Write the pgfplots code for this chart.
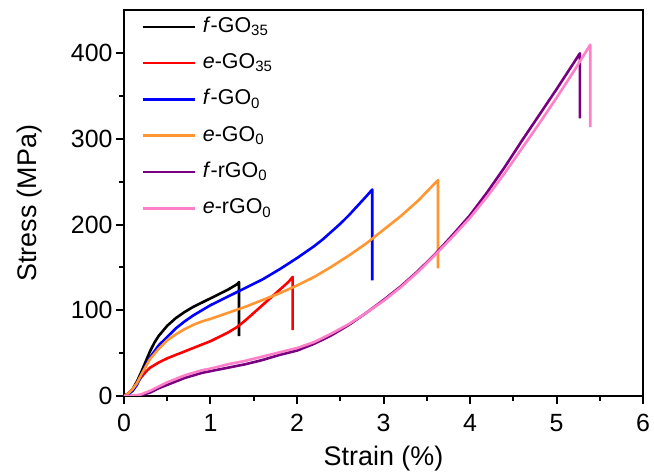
\documentclass[border=0pt]{standalone}
\usepackage{pgfplots}
\pgfplotsset{compat=1.18}
\usepackage{fontspec}
\setmainfont{Liberation Sans}
\definecolor{cOrange}{RGB}{255,150,50}
\definecolor{cPurple}{RGB}{120,0,128}
\definecolor{cPink}{RGB}{255,128,200}
\begin{document}
\begin{tikzpicture}
\begin{axis}[name=ax, scale only axis, width=519bp, height=385.5bp,
  xmin=0, xmax=6, ymin=0, ymax=450,
  xtick={0,1,2,3,4,5,6}, ytick={0,100,200,300,400},
  minor x tick num=1, minor y tick num=1,
  tick align=outside, tick pos=left,
  major tick length=8bp, minor tick length=5bp,
  axis line style={line width=2bp},
  every tick/.style={line width=2bp, black},
  tick label style={font=\fontsize{25}{29}\selectfont},
  x tick label style={yshift=-7bp},
  /pgf/number format/assume math mode=true,
  xlabel={Strain (\%)}, ylabel={Stress (MPa)},
  every axis x label/.style={at={(axis description cs:0.5,-0.179)}, anchor=base, font=\fontsize{27}{31}\selectfont},
  every axis y label/.style={at={(axis description cs:-0.1811,0.5)}, rotate=90, anchor=center, font=\fontsize{27}{31}\selectfont},
  legend style={at={(0.033,0.988)}, anchor=north west, draw=none, fill=none, inner sep=0pt,
    font=\fontsize{21.5}{25}\selectfont, row sep=13.3bp,
    nodes={inner sep=2bp, text height=15bp, text depth=4bp},
    /tikz/every odd column/.append style={column sep=5bp}},
  legend cell align=left,
  legend image code/.code={\draw[#1, line width=2.6bp] (0bp,0bp) -- (52bp,0bp);},
  every axis plot/.append style={line width=2.6bp, line join=round},
]
\addplot[black] coordinates {(0,0)(0.05,3)(0.1,8)(0.15,17)(0.2,28)(0.25,40)(0.3,52)(0.35,62)(0.4,70)(0.5,82)(0.6,91)(0.7,98)(0.8,104)(0.9,109)(1.0,114)(1.1,119)(1.2,124)(1.3,130)(1.33,133)(1.33,70)};
\addlegendentry{\textit{f}-GO\textsubscript{35}}
\addplot[red] coordinates {(0,0)(0.05,3)(0.1,8)(0.15,15)(0.2,22)(0.25,28)(0.3,33)(0.35,36)(0.4,39)(0.5,44)(0.6,48)(0.7,52)(0.8,56)(0.9,60)(1.0,64)(1.1,69)(1.2,74)(1.3,80)(1.4,88)(1.5,97)(1.6,106)(1.7,115)(1.8,124)(1.9,133)(1.95,139)(1.95,77)};
\addlegendentry{\textit{e}-GO\textsubscript{35}}
\addplot[blue] coordinates {(0,0)(0.05,2)(0.1,6)(0.15,13)(0.2,24)(0.25,35)(0.3,45)(0.4,59)(0.5,69)(0.6,79)(0.7,87)(0.8,94)(0.9,100)(1.0,106)(1.2,116)(1.4,126)(1.6,136)(1.8,148)(2.0,161)(2.2,175)(2.3,183)(2.4,192)(2.5,201)(2.6,211)(2.7,222)(2.8,233)(2.87,241)(2.87,135)};
\addlegendentry{\textit{f}-GO\textsubscript{0}}
\addplot[cOrange] coordinates {(0,0)(0.05,3)(0.1,8)(0.15,15)(0.2,25)(0.25,34)(0.3,43)(0.4,55)(0.5,65)(0.6,72)(0.7,78)(0.8,83)(0.9,87)(1.0,90)(1.2,97)(1.4,104)(1.6,112)(1.8,120)(2.0,129)(2.2,139)(2.4,151)(2.6,164)(2.8,178)(3.0,194)(3.2,210)(3.4,228)(3.63,252)(3.63,149)};
\addlegendentry{\textit{e}-GO\textsubscript{0}}
\addplot[cPurple] coordinates {(0,0)(0.1,0)(0.2,1)(0.3,4)(0.4,9)(0.5,13)(0.6,17)(0.7,21)(0.8,24)(0.9,27)(1.0,29)(1.2,33)(1.4,37)(1.6,42)(1.8,48)(2.0,53)(2.2,61)(2.4,71)(2.6,83)(2.8,97)(3.0,112)(3.2,128)(3.4,146)(3.6,166)(3.8,188)(4.0,211)(4.2,238)(4.4,267)(4.6,298)(4.8,328)(5.0,358)(5.2,389)(5.27,400)(5.27,324)};
\addlegendentry{\textit{f}-rGO\textsubscript{0}}
\addplot[cPink] coordinates {(0,0)(0.1,0)(0.2,2)(0.3,6)(0.4,11)(0.5,16)(0.6,20)(0.7,24)(0.8,27)(0.9,30)(1.0,32)(1.2,37)(1.4,41)(1.6,46)(1.8,51)(2.0,56)(2.2,63)(2.4,73)(2.6,84)(2.8,97)(3.0,111)(3.2,127)(3.4,145)(3.6,165)(3.8,186)(4.0,208)(4.2,233)(4.4,260)(4.6,289)(4.8,318)(5.0,348)(5.2,379)(5.39,410)(5.39,314)};
\addlegendentry{\textit{e}-rGO\textsubscript{0}}
\end{axis}
\pgfresetboundingbox
\useasboundingbox ([shift={(-124bp,-80bp)}]ax.south west) rectangle ([shift={(11bp,10.5bp)}]ax.north east);
\end{tikzpicture}
\end{document}
